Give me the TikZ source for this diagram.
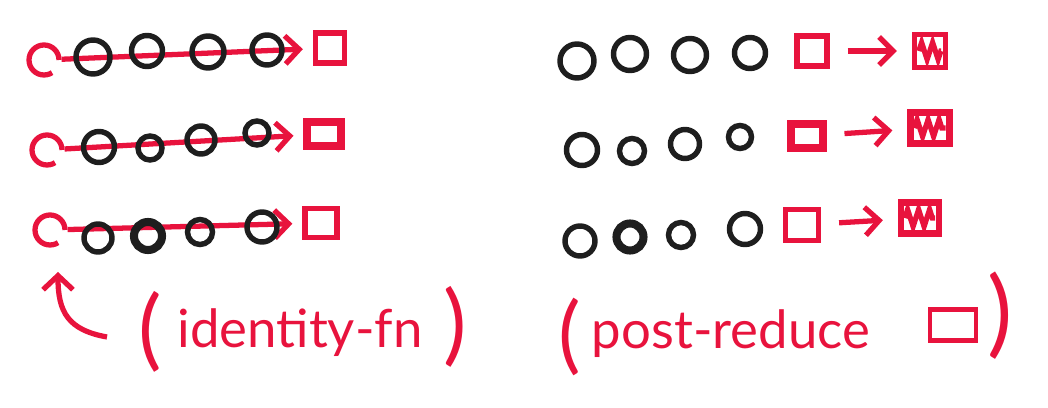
\documentclass[tikz,border=0pt]{standalone}
\usepackage{fontspec}
\setmainfont{Lato}
\usetikzlibrary{arrows.meta,calc,decorations.pathmorphing}
\definecolor{pen}{RGB}{232,19,61}
\definecolor{ink}{RGB}{30,30,30}

\begin{document}
\begin{tikzpicture}[x=0.02cm,y=-0.02cm,
  ring/.style={circle,draw=ink,line width=3.1pt,inner sep=0pt,minimum size=#1*0.02cm},
  seed/.style={circle,draw=pen,line width=3pt,inner sep=0pt,minimum size=#1*0.02cm,dash pattern=on 45pt off 10pt},
  box/.style 2 args={draw=pen,line width=3pt,inner sep=0pt,minimum width=#1*0.02cm,minimum height=#2*0.02cm},
  link/.style={pen,line width=3pt,-{Straight Barb[length=8pt,width=16pt]}},
  scrib/.style={pen,line width=3pt,decorate,decoration={zigzag,segment length=0.22cm,amplitude=0.17cm}},
  lbl/.style={text=pen,inner sep=0pt,font=\fontsize{30}{30}\selectfont},
  paren/.style={text=pen,inner sep=0pt,font=\fontsize{#1}{#1}\selectfont}]
\useasboundingbox (0,0) rectangle (1048,408);

% left: three rows folded from the identity
\node[seed=30] (c1) at (44,60) {};
\node[seed=30] (c2) at (47,150) {};
\node[seed=30] (c3) at (50,230) {};
\node[box={29}{30}] (b1) at (330,48) {};
\node[box={34}{24},line width=4pt] (b2) at (324,134) {};
\node[box={32}{29}] (b3) at (321,223) {};
\draw[link,shorten >=0.2cm] (c1) -- (b1);
\draw[link,shorten >=0.2cm] (c2) -- (b2);
\draw[link,shorten >=0.2cm] (c3) -- (b3);

\node[ring=34] (l11) at (93,57) {};
\node[ring=31] (l12) at (147,51) {};
\node[ring=32] (l13) at (208,52) {};
\node[ring=30] (l14) at (267,50) {};

\node[ring=31] (l21) at (99,147) {};
\node[ring=24] (l22) at (150,148) {};
\node[ring=28] (l23) at (201,140) {};
\node[ring=24] (l24) at (257,133) {};

\node[ring=28] (l31) at (98,238) {};
\node[ring=28,line width=4.6pt] (l32) at (148,236) {};
\node[ring=25] (l33) at (200,232) {};
\node[ring=30] (l34) at (262,227) {};

% right: rows reduced, then post-reduced
\node[ring=34] (r11) at (577,61) {};
\node[ring=33] (r12) at (630,54) {};
\node[ring=33] (r13) at (690,55) {};
\node[ring=31] (r14) at (750,53) {};

\node[ring=31] (r21) at (582,150) {};
\node[ring=25] (r22) at (632,151) {};
\node[ring=29] (r23) at (685,144) {};
\node[ring=23] (r24) at (740,137) {};

\node[ring=30] (r31) at (580,241) {};
\node[ring=27,line width=4.6pt] (r32) at (630,237) {};
\node[ring=25] (r33) at (681,235) {};
\node[ring=31] (r34) at (745,229) {};

\node[box={30}{30}] (q1) at (812,51) {};
\node[box={32}{24},line width=4pt] (q2) at (807,136) {};
\node[box={33}{31}] (q3) at (802,225) {};
\node[box={31}{33}] (h1) at (930,51) {};
\node[box={39}{31},line width=3.6pt] (h2) at (930,128) {};
\node[box={38}{31},line width=3.6pt] (h3) at (920,218) {};
\draw[link,shorten <=0.36cm,shorten >=0.3cm] (q1) -- (h1);
\draw[link,shorten <=0.36cm,shorten >=0.3cm] (q2) -- (h2);
\draw[link,shorten <=0.36cm,shorten >=0.3cm] (q3) -- (h3);
\foreach \h in {h1,h2,h3}
  \draw[scrib] ($(\h.west)+(7,0)$) -- ($(\h.east)+(-7,0)$);

% labels
\coordinate (tail) at (107,337);
\coordinate (tip) at (58,272);
\draw[pen,line width=3pt,-{Straight Barb[length=8pt,width=17pt]}] (tail) .. controls (68,330) and (58,312) .. (tip);
\node[paren=50] (lpa) at (150,332) {(};
\node[lbl,anchor=base] (idfn) at (300,348) {identity-fn};
\node[paren=50] (rpa) at (455,327) {)};

\node[paren=48] (lpb) at (570,337) {(};
\node[lbl,anchor=base] (post) at (731,349) {post-reduce};
\node[box={46}{31},line width=2.8pt] (ret) at (953,325) {};
\node[paren=54] (rpb) at (1000,316) {)};
\end{tikzpicture}
\end{document}
